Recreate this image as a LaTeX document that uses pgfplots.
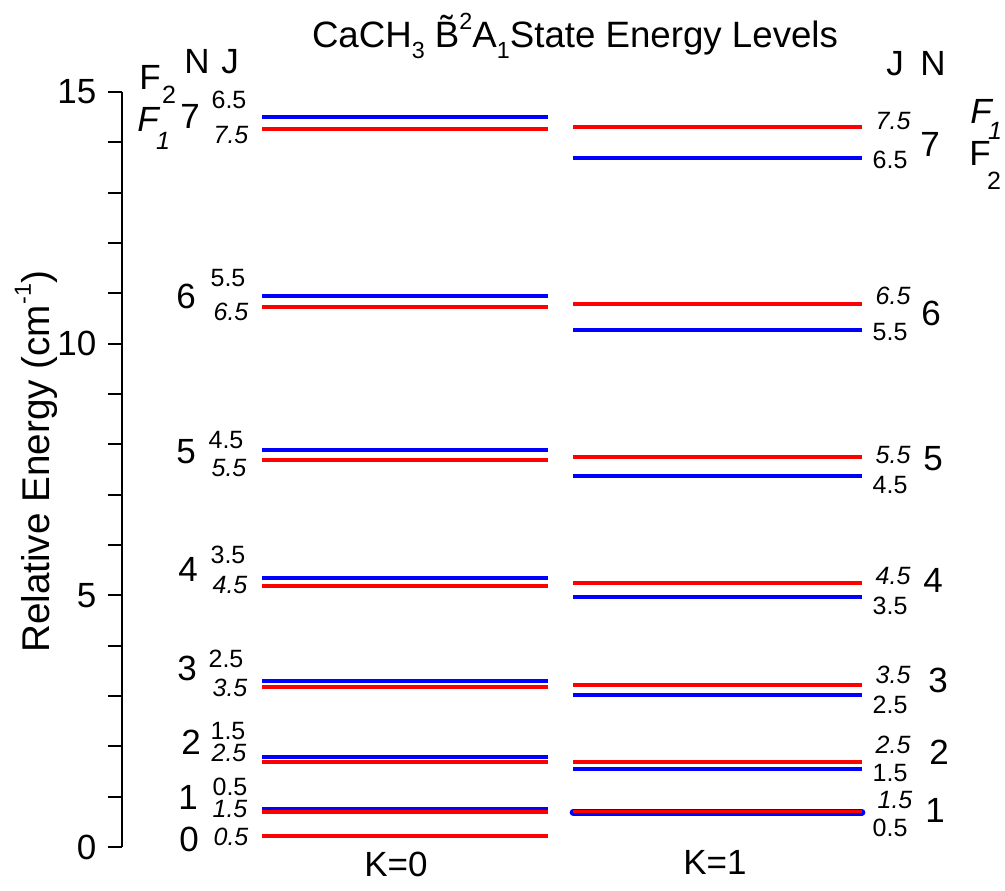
\documentclass[border=0pt]{standalone}
\usepackage{pgfplots}
\pgfplotsset{compat=1.18}
\usepackage{fontspec}
\setmainfont{Liberation Sans}
\newcommand{\fL}{\fontsize{10.5}{12}\selectfont}
\newcommand{\fS}{\fontsize{7.5}{9}\selectfont}
\newcommand{\fT}{\fontsize{7}{8}\selectfont}
\newcommand{\lo}[1]{\raisebox{-0.55ex}{\fT #1}}
\newcommand{\hi}[1]{\raisebox{0.9ex}{\fT #1}}
\newcommand{\lbl}[4][]{\node[inner sep=0pt,#1] at (axis cs:#2,{(847-#3)/50.33}) {#4};}
\begin{document}
\begin{tikzpicture}
\begin{axis}[
  name=ax, at={(0,0)}, anchor=south west,
  x=0.3pt, y=15.1pt,
  xmin=122, xmax=1005, ymin=0, ymax=15,
  hide x axis,
  axis y line=left,
  axis line style={-, line width=0.6pt},
  ytick={0,5,10,15},
  minor ytick={1,2,3,4,6,7,8,9,11,12,13,14},
  tick align=outside,
  major tick length=4.2pt, minor tick length=4.2pt,
  tick style={line width=0.6pt, black},
  yticklabel style={font=\fL, /pgf/number format/assume math mode=true},
  clip=false,
]
% K=0 levels (blue: F2, red: F1)
\addplot[blue, line width=1.2pt] coordinates {(262,14.50) (548,14.50)};
\addplot[red,  line width=1.2pt] coordinates {(262,14.27) (548,14.27)};
\addplot[blue, line width=1.2pt] coordinates {(262,10.95) (548,10.95)};
\addplot[red,  line width=1.2pt] coordinates {(262,10.73) (548,10.73)};
\addplot[blue, line width=1.2pt] coordinates {(262,7.89) (548,7.89)};
\addplot[red,  line width=1.2pt] coordinates {(262,7.69) (548,7.69)};
\addplot[blue, line width=1.2pt] coordinates {(262,5.34) (548,5.34)};
\addplot[red,  line width=1.2pt] coordinates {(262,5.19) (548,5.19)};
\addplot[blue, line width=1.2pt] coordinates {(262,3.30) (548,3.30)};
\addplot[red,  line width=1.2pt] coordinates {(262,3.18) (548,3.18)};
\addplot[blue, line width=1.2pt] coordinates {(262,1.79) (548,1.79)};
\addplot[red,  line width=1.2pt] coordinates {(262,1.68) (548,1.68)};
\addplot[blue, line width=1.2pt] coordinates {(262,0.75) (548,0.75)};
\addplot[red,  line width=1.2pt] coordinates {(262,0.70) (548,0.70)};
\addplot[red,  line width=1.2pt] coordinates {(262,0.22) (548,0.22)};
% K=1 levels
\addplot[red,  line width=1.2pt] coordinates {(573,14.31) (862,14.31)};
\addplot[blue, line width=1.2pt] coordinates {(573,13.69) (862,13.69)};
\addplot[red,  line width=1.2pt] coordinates {(573,10.79) (862,10.79)};
\addplot[blue, line width=1.2pt] coordinates {(573,10.27) (862,10.27)};
\addplot[red,  line width=1.2pt] coordinates {(573,7.75) (862,7.75)};
\addplot[blue, line width=1.2pt] coordinates {(573,7.37) (862,7.37)};
\addplot[red,  line width=1.2pt] coordinates {(573,5.25) (862,5.25)};
\addplot[blue, line width=1.2pt] coordinates {(573,4.97) (862,4.97)};
\addplot[red,  line width=1.2pt] coordinates {(573,3.22) (862,3.22)};
\addplot[blue, line width=1.2pt] coordinates {(573,3.02) (862,3.02)};
\addplot[red,  line width=1.2pt] coordinates {(573,1.69) (862,1.69)};
\addplot[blue, line width=1.2pt] coordinates {(573,1.55) (862,1.55)};
\addplot[blue, line width=2.0pt, line cap=round] coordinates {(573,0.69) (862,0.69)};
\addplot[red,  line width=1.0pt] coordinates {(573,0.70) (862,0.70)};

% title and axis labels
\lbl{575}{36}{\fontsize{11}{13}\selectfont CaCH\lo{3} \~{B}\hi{2}A\lo{1}State Energy Levels}
\lbl[rotate=90]{36}{462}{\fontsize{11.6}{13}\selectfont Relative Energy (cm\hi{-1})}
\lbl{396}{864}{\fL K=0}
\lbl{715}{862}{\fL K=1}

% left header
\lbl{150}{78}{\fL F}
\lbl{169}{95}{\fS 2}
\lbl{148}{120}{\fL\itshape F}
\lbl{163}{141}{\fS\itshape 1}
\lbl{197}{62}{\fL N}
\lbl{230}{62}{\fL J}
% left N labels
\lbl{190}{117}{\fL 7}
\lbl{186}{296}{\fL 6}
\lbl{186}{452}{\fL 5}
\lbl{188}{569}{\fL 4}
\lbl{187}{668}{\fL 3}
\lbl{191}{742}{\fL 2}
\lbl{188}{797}{\fL 1}
\lbl{189}{839}{\fL 0}
% left J labels
\lbl{229}{100}{\fS 6.5}
\lbl{231}{135}{\fS\itshape 7.5}
\lbl{228}{278}{\fS 5.5}
\lbl{231}{312}{\fS\itshape 6.5}
\lbl{226}{440}{\fS 4.5}
\lbl{229}{468}{\fS\itshape 5.5}
\lbl{228}{555}{\fS 3.5}
\lbl{230}{585}{\fS\itshape 4.5}
\lbl{226}{659}{\fS 2.5}
\lbl{230}{688}{\fS\itshape 3.5}
\lbl{228}{731}{\fS 1.5}
\lbl{229}{753}{\fS\itshape 2.5}
\lbl{230}{787}{\fS 0.5}
\lbl{230}{809}{\fS\itshape 1.5}
\lbl{231}{837}{\fS\itshape 0.5}

% right header
\lbl{895}{64}{\fL J}
\lbl{933}{64}{\fL N}
\lbl{981}{112}{\fL\itshape F}
\lbl{995}{131}{\fS\itshape 1}
\lbl{980}{154}{\fL F}
\lbl{994}{181}{\fS 2}
% right N labels
\lbl{930}{145}{\fL 7}
\lbl{931}{313}{\fL 6}
\lbl{933}{459}{\fL 5}
\lbl{933}{580}{\fL 4}
\lbl{938}{680}{\fL 3}
\lbl{939}{752}{\fL 2}
\lbl{935}{810}{\fL 1}
% right J labels
\lbl{893}{121}{\fS\itshape 7.5}
\lbl{890}{160}{\fS 6.5}
\lbl{893}{296}{\fS\itshape 6.5}
\lbl{890}{332}{\fS 5.5}
\lbl{893}{455}{\fS\itshape 5.5}
\lbl{890}{485}{\fS 4.5}
\lbl{893}{576}{\fS\itshape 4.5}
\lbl{890}{606}{\fS 3.5}
\lbl{893}{675}{\fS\itshape 3.5}
\lbl{890}{705}{\fS 2.5}
\lbl{893}{745}{\fS\itshape 2.5}
\lbl{890}{773}{\fS 1.5}
\lbl{895}{800}{\fS\itshape 1.5}
\lbl{890}{828}{\fS 0.5}
\end{axis}
\pgfresetboundingbox
\path[use as bounding box] (-36.6pt,-12.9pt) rectangle (264.9pt,254.1pt);
\end{tikzpicture}
\end{document}
